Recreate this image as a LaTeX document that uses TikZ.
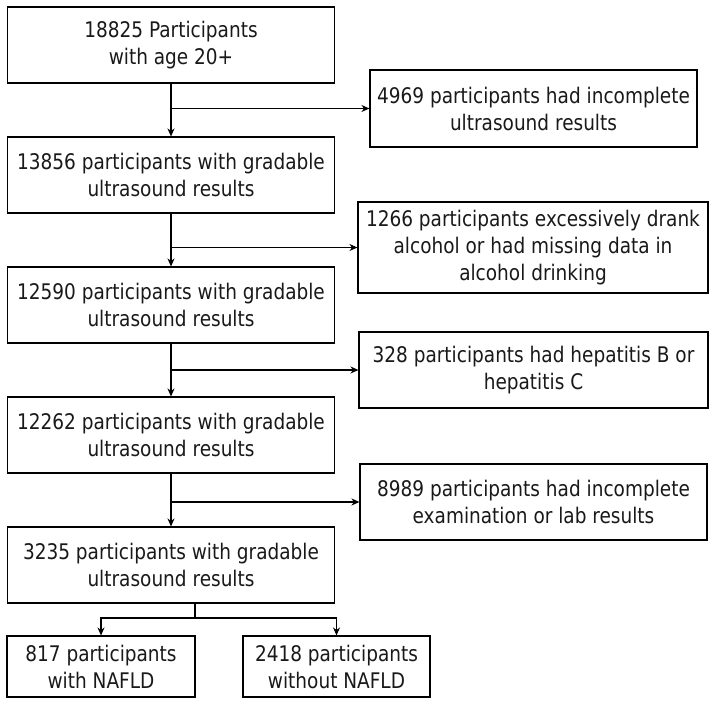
\documentclass[tikz,border=0pt]{standalone}
\usepackage{fontspec}
\setmainfont{DejaVu Sans}[FakeStretch=0.86]
\usetikzlibrary{arrows.meta, positioning}

\begin{document}
\begin{tikzpicture}[->, >={Stealth[length=8pt, width=7pt, inset=2.5pt]}, line width=1.1pt, x=1pt, y=-1pt, node distance=130pt]
    \tikzstyle{box}=[rectangle, draw, minimum width=327pt, minimum height=76pt, inner sep=0pt, align=center, text=black!90, font=\fontsize{21.5}{27}\selectfont]
    \useasboundingbox (0,0) rectangle (714,701);

    \node[box]    (N1) at (171,45)   {18825 Participants\\with age 20+};
    \node[box]    (N2) [below of=N1] {13856 participants with gradable\\ultrasound results};
    \node[box]    (N3) [below of=N2] {12590 participants with gradable\\ultrasound results};
    \node[box]    (N4) [below of=N3] {12262 participants with gradable\\ultrasound results};
    \node[box]    (N5) [below of=N4] {3235 participants with gradable\\ultrasound results};

    \node[box, minimum height=77pt]                      (E1) at (533.5,108.5) {4969 participants had incomplete\\ultrasound results};
    \node[box, minimum width=350pt, minimum height=91pt] (E2) at (533,247.5)   {1266 participants excessively drank\\alcohol or had missing data in\\alcohol drinking};
    \node[box, minimum width=349pt]                      (E3) at (533.5,370)   {328 participants had hepatitis B or\\hepatitis C};
    \node[box, minimum width=347pt]                      (E4) at (533.5,502)   {8989 participants had incomplete\\examination or lab results};

    \node[box, minimum width=188pt, minimum height=61pt] (Y) at (101,666.5)   {817 participants\\with NAFLD};
    \node[box, minimum width=187pt, minimum height=61pt] (W) at (336.5,666.5) {2418 participants\\without NAFLD};

    \coordinate (split) at (195,618);

    \draw (N1) -- (N2);
    \draw (N2) -- (N3);
    \draw (N3) -- (N4);
    \draw (N4) -- (N5);
    \draw (N1.south |- E1.west) -- (E1.west);
    \draw (N2.south |- E2.west) -- (E2.west);
    \draw (N3.south |- E3.west) -- (E3.west);
    \draw (N4.south |- E4.west) -- (E4.west);
    \draw[-] (N5.south -| split) -- (split);
    \draw (split) -| (Y);
    \draw (split) -| (W);
\end{tikzpicture}
\end{document}
